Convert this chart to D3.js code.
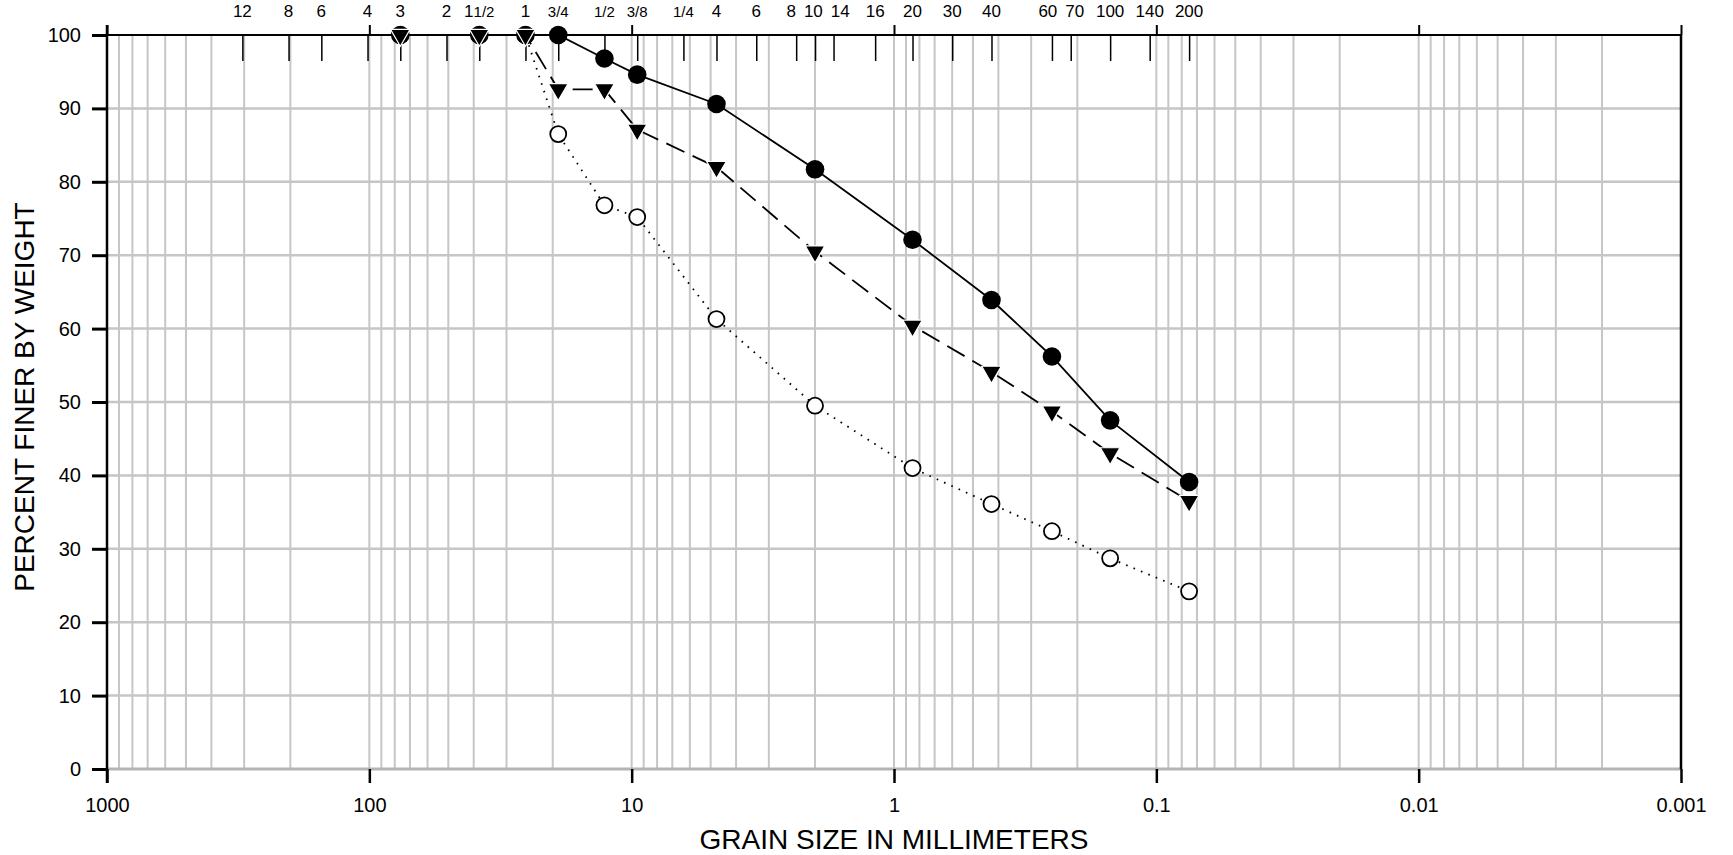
<!DOCTYPE html>
<html>
<head>
<meta charset="utf-8">
<script src="https://cdn.jsdelivr.net/npm/d3@7/dist/d3.min.js"></script>
<style>
  html, body { margin: 0; padding: 0; background: #fff; }
  svg { display: block; font-family: "Liberation Sans", Arial, sans-serif; }
</style>
</head>
<body>
<svg id="chart" width="1733" height="855"></svg>
<script>
// ---------- data ----------
const decadeValues = [1000, 100, 10, 1, 0.1, 0.01, 0.001];
const decadeLabels = ["1000", "100", "10", "1", "0.1", "0.01", "0.001"];

const sieveLabels = ["12", "8", "6", "4", "3", "2", "1 1/2", "1", "3/4", "1/2", "3/8", "1/4",
  "4", "6", "8", "10", "14", "16", "20", "30", "40", "60", "70", "100", "140", "200"];
const sieveSizes = [304.8, 203.2, 152.4, 101.6, 76.2, 50.8, 38.1, 25.4, 19.05, 12.7, 9.525, 6.35,
  4.75, 3.35, 2.36, 2.0, 1.7, 1.18, 0.85, 0.6, 0.425, 0.25, 0.212, 0.15, 0.106, 0.075];

const testSizes = [76.2, 38.1, 25.4, 19.05, 12.7, 9.525, 4.75, 2.0, 0.85, 0.425, 0.25, 0.15, 0.075];
const seriesSolid  = [100, 100, 100, 100, 96.8, 94.6, 90.6, 81.7, 72.1, 63.9, 56.2, 47.5, 39.1];
const seriesDashed = [100, 100, 100, 92.6, 92.6, 87.1, 82.0, 70.5, 60.4, 54.1, 48.7, 43.0, 36.5];
const seriesDotted = [100, 100, 100, 86.5, 76.8, 75.2, 61.3, 49.5, 41.0, 36.1, 32.4, 28.7, 24.2];

const yTickValues = [0, 10, 20, 30, 40, 50, 60, 70, 80, 90, 100];

// ---------- layout ----------
const svg = d3.select("#chart");
const L = 107, R = 1681, T = 35, B = 769;
const x = d3.scaleLog().domain([1000, 0.001]).range([L, R]);
const y = d3.scaleLinear().domain([0, 100]).range([B, T]);
const grid = "#c6c6c6";

// vertical grid (log minor lines)
svg.append("g").selectAll("line")
  .data(x.ticks().filter(v => v < 999 && v > 0.00101))
  .join("line")
  .attr("x1", d => x(d)).attr("x2", d => x(d))
  .attr("y1", T).attr("y2", B)
  .attr("stroke", grid).attr("stroke-width", 2);

// horizontal grid
svg.append("g").selectAll("line")
  .data(yTickValues.filter(v => v < 100))
  .join("line")
  .attr("x1", L).attr("x2", R)
  .attr("y1", d => y(d)).attr("y2", d => y(d))
  .attr("stroke", d => d === 0 ? "#b4b4b4" : grid)
  .attr("stroke-width", d => d === 0 ? 3 : 2.5);

// bottom axis (decades)
const bottomAxis = svg.append("g")
  .attr("transform", `translate(0,${B})`)
  .call(d3.axisBottom(x).tickValues(decadeValues)
    .tickFormat((d, i) => decadeLabels[i]).tickSize(14).tickPadding(15));
bottomAxis.select(".domain").remove();
bottomAxis.selectAll(".tick line").attr("stroke", "#000").attr("stroke-width", 2.5);
bottomAxis.selectAll(".tick text").attr("font-size", 20).attr("fill", "#000")
  .attr("font-family", "Liberation Sans, Arial, sans-serif");

// top axis: decade ticks outward (up)
const topAxis = svg.append("g")
  .attr("transform", `translate(0,${T})`)
  .call(d3.axisTop(x).tickValues(decadeValues).tickFormat("").tickSize(10));
topAxis.select(".domain").remove();
topAxis.selectAll(".tick line").attr("stroke", "#000").attr("stroke-width", 2);

// top axis: sieve ticks inward (down)
const sieveAxis = svg.append("g")
  .attr("transform", `translate(0,${T})`)
  .call(d3.axisTop(x).tickValues(sieveSizes).tickFormat("").tickSize(-26));
sieveAxis.select(".domain").remove();
sieveAxis.selectAll(".tick line").attr("stroke", "#000").attr("stroke-width", 1.5);

// sieve labels
const sl = svg.append("g").selectAll("text")
  .data(sieveSizes)
  .join("text")
  .attr("x", d => x(d)).attr("y", 17)
  .attr("text-anchor", "middle").attr("fill", "#000");
sl.each(function (d, i) {
  const lab = sieveLabels[i];
  const t = d3.select(this);
  if (lab.includes(" ")) {
    const [w, f] = lab.split(" ");
    t.append("tspan").attr("font-size", 17).text(w);
    t.append("tspan").attr("font-size", 15).text(f);
  } else if (lab.includes("/")) {
    t.attr("font-size", 15).text(lab);
  } else {
    t.attr("font-size", 17).text(lab);
  }
});
// spread crowded labels apart (simple relaxation keeping a minimum gap)
{
  const nodes = sl.nodes();
  const pos = sieveSizes.map(d => x(d));
  const w = nodes.map(n => n.getComputedTextLength());
  const gap = 8;
  for (let it = 0; it < 200; it++) {
    for (let i = 0; i < pos.length - 1; i++) {
      const need = (w[i] + w[i + 1]) / 2 + gap;
      const have = pos[i + 1] - pos[i];
      if (have < need) {
        const p = (need - have) / 2;
        pos[i] -= p; pos[i + 1] += p;
      }
    }
  }
  sl.attr("x", (d, i) => pos[i]);
}

// frame lines
svg.append("line").attr("x1", L).attr("x2", R).attr("y1", T).attr("y2", T)
  .attr("stroke", "#000").attr("stroke-width", 2.2);
svg.append("line").attr("x1", R).attr("x2", R).attr("y1", T).attr("y2", B)
  .attr("stroke", "#000").attr("stroke-width", 2.5);

// left axis
const leftAxis = svg.append("g")
  .attr("transform", `translate(${L},0)`)
  .call(d3.axisLeft(y).tickValues(yTickValues).tickSize(15).tickPadding(11));
leftAxis.select(".domain").remove();
leftAxis.selectAll(".tick line").attr("stroke", "#000").attr("stroke-width", 3);
leftAxis.selectAll(".tick text").attr("font-size", 20).attr("fill", "#000")
  .attr("font-family", "Liberation Sans, Arial, sans-serif");
svg.append("line").attr("x1", L).attr("x2", L).attr("y1", T - 10).attr("y2", B + 14)
  .attr("stroke", "#000").attr("stroke-width", 2.5);

// axis titles
svg.append("text").attr("x", (L + R) / 2).attr("y", 849)
  .attr("text-anchor", "middle").attr("font-size", 28).attr("fill", "#000")
  .text("GRAIN SIZE IN MILLIMETERS");
svg.append("text").attr("transform", "translate(34,397) rotate(-90)")
  .attr("text-anchor", "middle").attr("font-size", 28).attr("fill", "#000")
  .text("PERCENT FINER BY WEIGHT");

// ---------- series ----------
const line = d3.line().x(d => x(d[0])).y(d => y(d[1]));
const pts = vals => testSizes.map((s, i) => [s, vals[i]]);

svg.append("path").attr("d", line(pts(seriesDotted)))
  .attr("fill", "none").attr("stroke", "#000").attr("stroke-width", 1.8)
  .attr("stroke-dasharray", "1.6,6.4");
svg.append("path").attr("d", line(pts(seriesDashed)))
  .attr("fill", "none").attr("stroke", "#000").attr("stroke-width", 1.8)
  .attr("stroke-dasharray", "20,9");
svg.append("path").attr("d", line(pts(seriesSolid)))
  .attr("fill", "none").attr("stroke", "#000").attr("stroke-width", 1.8);

// markers: open circles, filled circles, triangles
svg.append("g").selectAll("circle").data(pts(seriesDotted)).join("circle")
  .attr("cx", d => x(d[0])).attr("cy", d => y(d[1])).attr("r", 8)
  .attr("fill", "#fff").attr("stroke", "#000").attr("stroke-width", 1.8);
svg.append("g").selectAll("circle").data(pts(seriesSolid)).join("circle")
  .attr("cx", d => x(d[0])).attr("cy", d => y(d[1])).attr("r", 9.3)
  .attr("fill", "#000");
const tri = d3.symbol().type(d3.symbolTriangle).size(165);
svg.append("g").selectAll("path").data(pts(seriesDashed)).join("path")
  .attr("d", tri)
  .attr("transform", d => `translate(${x(d[0])},${y(d[1])}) rotate(180)`)
  .attr("fill", "#000").attr("stroke", "#fff").attr("stroke-width", 1.2);
</script>
</body>
</html>
